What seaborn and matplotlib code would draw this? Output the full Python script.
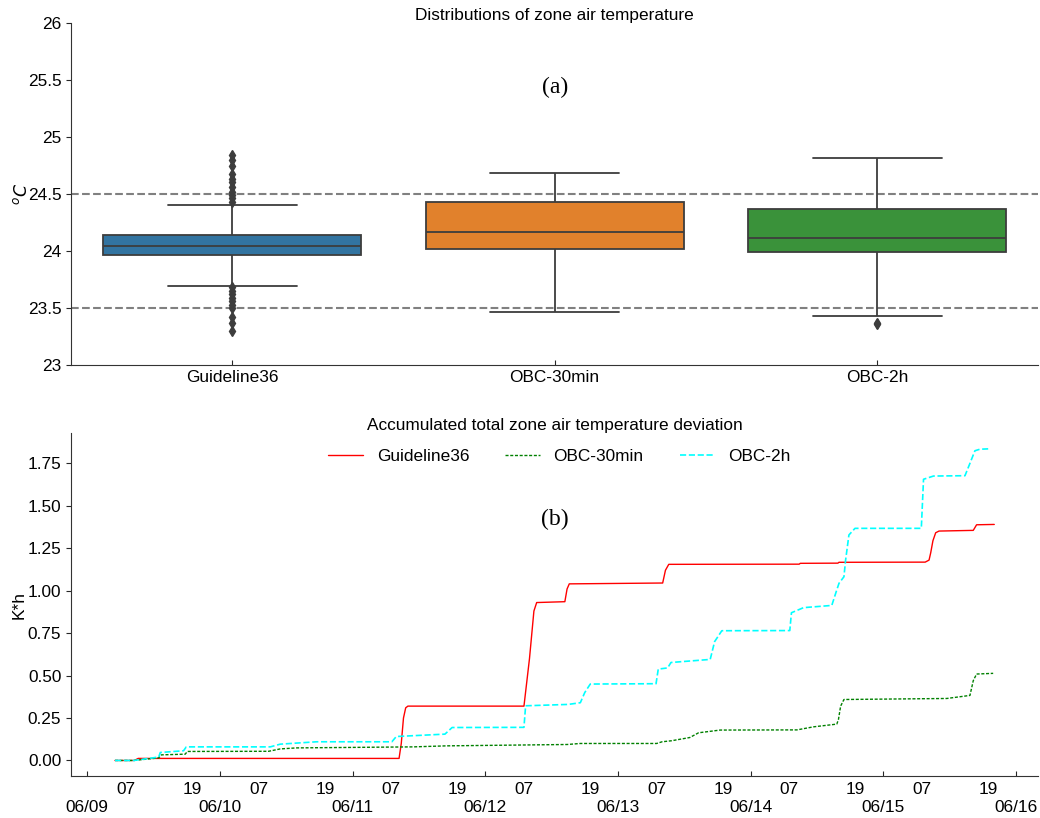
import numpy as np
import pandas as pd
import matplotlib
matplotlib.use("Agg")
import matplotlib.pyplot as plt
import matplotlib.dates as mdates
from matplotlib.ticker import FuncFormatter
import seaborn as sns

# ---------------- data: zone air temperature samples (degC) ----------------
controllers = ["Guideline36", "OBC-30min", "OBC-2h"]
temp_guideline36 = [23.30, 23.37, 23.42, 23.50, 23.53, 23.56, 23.59, 23.62, 23.65, 23.68,
                    23.695, 23.85, 23.96,
                    23.97, 23.98, 23.99, 24.00, 24.00, 24.01, 24.02, 24.02, 24.03, 24.04, 24.04,
                    24.045,
                    24.05, 24.06, 24.07, 24.08, 24.09, 24.10, 24.11, 24.12, 24.12, 24.13, 24.13,
                    24.14, 24.405,
                    24.43, 24.46, 24.49, 24.52, 24.56, 24.60, 24.63, 24.67, 24.74, 24.80, 24.84]
temp_obc30 = [23.465, 23.80, 24.015, 24.10, 24.17, 24.30, 24.43, 24.55, 24.68]
temp_obc2h = [23.355, 23.37, 23.43, 23.99, 24.03, 24.07, 24.11, 24.20, 24.30, 24.37,
              24.50, 24.65, 24.815]
comfort_band = [23.5, 24.5]
temp_ticks = [23, 23.5, 24, 24.5, 25, 25.5, 26]

# ---------------- data: accumulated deviation (K*h) ----------------
start_date = "2020-06-09 00:00"
g36_hours = [5.0, 8.5, 9.2, 56.4, 56.8, 57.2, 57.6, 58.0, 79.0, 80.0, 80.8, 81.3,
             86.4, 86.8, 87.2, 104.1, 104.6, 105.2, 128.8, 129.0, 135.8, 136.0,
             151.6, 152.3, 152.6, 153.0, 153.5, 154.1, 160.3, 160.9, 164.1]
g36_vals = [0.0, 0.0, 0.012, 0.012, 0.10, 0.25, 0.31, 0.32, 0.32, 0.60, 0.88, 0.93,
            0.935, 1.01, 1.04, 1.045, 1.12, 1.155, 1.156, 1.161, 1.162, 1.167,
            1.168, 1.18, 1.223, 1.294, 1.341, 1.351, 1.355, 1.388, 1.39]

obc30_hours = [5.0, 8.4, 12.9, 13.4, 17.7, 18.1, 32.8, 34.9, 37.9, 59.0, 65.0, 86.8, 89.2,
               103.0, 104.0, 105.7, 109.0, 110.6, 114.5, 128.4, 131.4, 135.6, 135.9, 136.3,
               136.9, 155.5, 159.7, 160.3, 160.9, 163.9]
obc30_vals = [0.0, 0.0, 0.015, 0.033, 0.037, 0.053, 0.054, 0.068, 0.074, 0.08, 0.086, 0.094, 0.10,
              0.10, 0.11, 0.116, 0.135, 0.163, 0.179, 0.18, 0.198, 0.214, 0.24, 0.32,
              0.359, 0.365, 0.383, 0.47, 0.509, 0.513]

obc2h_hours = [5.0, 8.4, 12.9, 13.2, 17.4, 17.9, 33.1, 34.9, 41.5, 55.1, 55.9, 64.7, 66.0,
               79.0, 79.3, 87.0, 89.2, 90.0, 91.0, 102.9, 103.3, 105.0, 105.6, 112.7, 113.5,
               114.8, 127.1, 127.4, 129.6, 134.7, 135.5, 136.0, 136.9, 137.2, 137.8, 138.9,
               150.9, 151.3, 153.1, 158.8, 159.7, 160.6, 161.5, 163.0]
obc2h_vals = [0.0, 0.0, 0.02, 0.047, 0.057, 0.08, 0.08, 0.096, 0.11, 0.11, 0.141, 0.155, 0.194,
              0.195, 0.322, 0.33, 0.34, 0.40, 0.45, 0.452, 0.538, 0.545, 0.577, 0.595, 0.70,
              0.764, 0.765, 0.87, 0.90, 0.913, 0.994, 1.043, 1.082, 1.18, 1.328, 1.367,
              1.367, 1.656, 1.675, 1.677, 1.75, 1.824, 1.833, 1.835]

# ---------------- style ----------------
sns.set_style("ticks")
plt.rcParams['font.family'] = ['Liberation Sans', 'DejaVu Sans']
plt.rcParams['axes.edgecolor'] = '#333333'
plt.rcParams['text.color'] = 'black'
plt.rcParams['axes.labelcolor'] = 'black'
plt.rcParams['xtick.labelcolor'] = 'black'
plt.rcParams['ytick.labelcolor'] = 'black'

FS = 12.4

fig = plt.figure(figsize=(10.4, 8.18), dpi=100)
ax1 = fig.add_axes([0.0683, 0.5538, 0.93, 0.4184])
ax2 = fig.add_axes([0.0683, 0.0513, 0.93, 0.4190])

# ---------------- (a) boxplot ----------------
box_df = pd.DataFrame({
    "controller": ([controllers[0]] * len(temp_guideline36)
                   + [controllers[1]] * len(temp_obc30)
                   + [controllers[2]] * len(temp_obc2h)),
    "temp": temp_guideline36 + temp_obc30 + temp_obc2h,
})
sns.boxplot(data=box_df, x="controller", y="temp", hue="controller", order=controllers,
            hue_order=controllers, palette=["#1f77b4", "#ff7f0e", "#2ca02c"],
            saturation=0.75, width=0.8, linewidth=1.3, fliersize=5.5, legend=False, ax=ax1,
            flierprops={"marker": "d", "markerfacecolor": "#3d3d3d",
                        "markeredgecolor": "#3d3d3d"})
for v in comfort_band:
    ax1.axhline(v, color="gray", linestyle="--", linewidth=1.5, zorder=0.5)
ax1.set_ylim(temp_ticks[0], temp_ticks[-1])
ax1.set_yticks(temp_ticks)
ax1.yaxis.set_major_formatter(FuncFormatter(lambda v, p: f"{v:g}"))
ax1.set_xlabel("")
ax1.set_ylabel(r"$^oC$", fontsize=FS, labelpad=-1.5)
ax1.set_title("Distributions of zone air temperature", fontsize=FS, pad=1.5)
ax1.text(0.5, 0.812, "(a)", transform=ax1.transAxes, ha="center", va="center",
         fontsize=17, family=["Liberation Serif", "DejaVu Serif"])
ax1.tick_params(axis="both", labelsize=FS)
ax1.tick_params(axis="x", direction="in", length=3.5)
ax1.tick_params(axis="y", direction="out", length=3.5)
sns.despine(ax=ax1)

# ---------------- (b) accumulated deviation ----------------
base = pd.Timestamp(start_date)
series = [
    ("Guideline36", g36_hours, g36_vals, "red", "-", 1.0),
    ("OBC-30min", obc30_hours, obc30_vals, "green", (0, (2.2, 1.2)), 1.0),
    ("OBC-2h", obc2h_hours, obc2h_vals, "cyan", (0, (3.7, 1.6)), 1.2),
]
for name, hrs, vals, col, ls, lw in series:
    t = base + pd.to_timedelta(np.asarray(hrs), unit="h")
    sns.lineplot(x=t, y=vals, ax=ax2, color=col, linestyle=ls, linewidth=lw,
                 label=name, sort=False)

ax2.xaxis.set_major_locator(mdates.DayLocator())
ax2.xaxis.set_major_formatter(mdates.DateFormatter("%m/%d"))
ax2.xaxis.set_minor_locator(mdates.HourLocator(byhour=[7, 19]))
ax2.xaxis.set_minor_formatter(mdates.DateFormatter("%H"))
ax2.tick_params(axis="x", which="major", direction="in", length=3.5, labelsize=FS, pad=17.5)
ax2.tick_params(axis="x", which="minor", length=0, labelsize=FS, pad=4.5)
ax2.tick_params(axis="y", direction="out", length=3.5, labelsize=FS)
ax2.set_xlabel("")
ax2.set_ylabel("K*h", fontsize=FS, labelpad=0.5)
ax2.set_title("Accumulated total zone air temperature deviation", fontsize=FS, pad=1.5)
ax2.text(0.5, 0.75, "(b)", transform=ax2.transAxes, ha="center", va="center",
         fontsize=17, family=["Liberation Serif", "DejaVu Serif"])
ax2.legend(loc="upper center", ncol=3, frameon=False, fontsize=FS, columnspacing=2.1,
           bbox_to_anchor=(0.505, 1.0))
sns.despine(ax=ax2)

fig.savefig("out.png", dpi=100)
